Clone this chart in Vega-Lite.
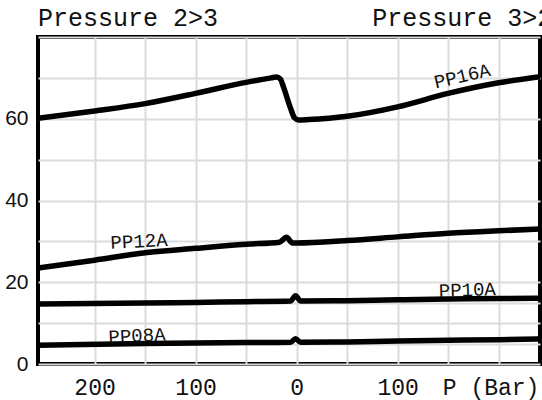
{
  "$schema": "https://vega.github.io/schema/vega-lite/v6.json",
  "width": 502,
  "height": 327,
  "autosize": {"type": "none"},
  "padding": {"left": 38, "top": 37, "right": 2, "bottom": 36},
  "background": "white",
  "config": {"view": {"stroke": "black", "strokeWidth": 4}},
  "datasets": {
    "curves": [
      {"curve": "PP16A", "p": -256, "v": 60.1},
      {"curve": "PP16A", "p": -200, "v": 61.9},
      {"curve": "PP16A", "p": -150, "v": 63.7},
      {"curve": "PP16A", "p": -100, "v": 66.2},
      {"curve": "PP16A", "p": -50, "v": 68.9},
      {"curve": "PP16A", "p": -25, "v": 70.0},
      {"curve": "PP16A", "p": -20, "v": 70.2},
      {"curve": "PP16A", "p": -16, "v": 69.7},
      {"curve": "PP16A", "p": -13, "v": 67.8},
      {"curve": "PP16A", "p": -6, "v": 62.6},
      {"curve": "PP16A", "p": -2, "v": 60.2},
      {"curve": "PP16A", "p": 2, "v": 59.7},
      {"curve": "PP16A", "p": 12, "v": 59.8},
      {"curve": "PP16A", "p": 50, "v": 60.6},
      {"curve": "PP16A", "p": 100, "v": 62.9},
      {"curve": "PP16A", "p": 150, "v": 66.2},
      {"curve": "PP16A", "p": 200, "v": 68.8},
      {"curve": "PP16A", "p": 241, "v": 70.3},
      {"curve": "PP12A", "p": -256, "v": 23.5},
      {"curve": "PP12A", "p": -200, "v": 25.4},
      {"curve": "PP12A", "p": -150, "v": 27.2},
      {"curve": "PP12A", "p": -100, "v": 28.3},
      {"curve": "PP12A", "p": -50, "v": 29.3},
      {"curve": "PP12A", "p": -17, "v": 29.8},
      {"curve": "PP12A", "p": -10, "v": 31.0},
      {"curve": "PP12A", "p": -4, "v": 29.6},
      {"curve": "PP12A", "p": 0, "v": 29.6},
      {"curve": "PP12A", "p": 50, "v": 30.2},
      {"curve": "PP12A", "p": 100, "v": 31.1},
      {"curve": "PP12A", "p": 150, "v": 32.0},
      {"curve": "PP12A", "p": 200, "v": 32.6},
      {"curve": "PP12A", "p": 241, "v": 33.0},
      {"curve": "PP10A", "p": -256, "v": 14.7},
      {"curve": "PP10A", "p": -150, "v": 14.95},
      {"curve": "PP10A", "p": -100, "v": 15.05},
      {"curve": "PP10A", "p": -50, "v": 15.25},
      {"curve": "PP10A", "p": -6, "v": 15.4},
      {"curve": "PP10A", "p": -1, "v": 16.7},
      {"curve": "PP10A", "p": 4, "v": 15.4},
      {"curve": "PP10A", "p": 50, "v": 15.5},
      {"curve": "PP10A", "p": 100, "v": 15.7},
      {"curve": "PP10A", "p": 150, "v": 15.9},
      {"curve": "PP10A", "p": 200, "v": 16.0},
      {"curve": "PP10A", "p": 241, "v": 16.1},
      {"curve": "PP08A", "p": -256, "v": 4.6},
      {"curve": "PP08A", "p": -150, "v": 5.0},
      {"curve": "PP08A", "p": -100, "v": 5.15},
      {"curve": "PP08A", "p": -50, "v": 5.25},
      {"curve": "PP08A", "p": -6, "v": 5.3},
      {"curve": "PP08A", "p": -1, "v": 6.2},
      {"curve": "PP08A", "p": 4, "v": 5.3},
      {"curve": "PP08A", "p": 50, "v": 5.4},
      {"curve": "PP08A", "p": 100, "v": 5.6},
      {"curve": "PP08A", "p": 150, "v": 5.8},
      {"curve": "PP08A", "p": 200, "v": 5.95},
      {"curve": "PP08A", "p": 241, "v": 6.1}
    ],
    "labels": [
      {"label": "PP16A", "p": 164, "v": 70.4},
      {"label": "PP12A", "p": -156, "v": 30.0},
      {"label": "PP10A", "p": 169, "v": 18.1},
      {"label": "PP08A", "p": -158, "v": 6.9}
    ],
    "headers": [
      {"text": "Pressure 2>3", "p": -256, "v": 82.7},
      {"text": "Pressure 3>2", "p": 75, "v": 82.7}
    ]
  },
  "encoding": {
    "x": {
      "field": "p",
      "type": "quantitative",
      "scale": {"domain": [-256, 241], "nice": false, "zero": false},
      "axis": {
        "title": null,
        "values": [-200, -150, -100, -50, 0, 50, 100, 150, 200],
        "labelExpr": "datum.value == 200 ? 'P (Bar)' : (datum.value % 100 == 0 ? format(abs(datum.value), 'd') : '')",
        "domain": false,
        "ticks": false,
        "grid": true,
        "gridColor": "#dcdcdc",
        "gridWidth": 2,
        "labelFont": "Liberation Mono",
        "labelFontSize": 23,
        "labelColor": "#111",
        "labelPadding": 12,
        "labelFlush": false,
        "labelOverlap": false,
        "labelOffset": {"condition": {"test": "datum.value == 200", "value": -8}, "value": 0}
      }
    },
    "y": {
      "field": "v",
      "type": "quantitative",
      "scale": {"domain": [0, 80], "nice": false},
      "axis": {
        "title": null,
        "values": [0, 5, 10, 15, 20, 30, 40, 50, 60, 70, 80],
        "labelExpr": "datum.value % 20 == 0 && datum.value < 80 ? datum.label : ''",
        "domain": false,
        "ticks": false,
        "grid": true,
        "gridColor": "#dcdcdc",
        "gridWidth": 2,
        "labelFont": "Liberation Sans",
        "labelFontSize": 21,
        "labelColor": "#111",
        "labelPadding": 10,
        "labelOverlap": false
      }
    }
  },
  "layer": [
    {
      "data": {"name": "curves"},
      "mark": {"type": "line", "interpolate": "monotone", "stroke": "black", "strokeWidth": 5.5, "strokeJoin": "round", "clip": true},
      "encoding": {"detail": {"field": "curve"}}
    },
    {
      "data": {"name": "labels"},
      "transform": [{"filter": "datum.label == 'PP16A'"}],
      "mark": {"type": "text", "font": "Liberation Mono", "fontSize": 19, "angle": -13, "color": "#111"},
      "encoding": {"text": {"field": "label"}}
    },
    {
      "data": {"name": "labels"},
      "transform": [{"filter": "datum.label == 'PP12A'"}],
      "mark": {"type": "text", "font": "Liberation Mono", "fontSize": 19, "angle": -3, "color": "#111"},
      "encoding": {"text": {"field": "label"}}
    },
    {
      "data": {"name": "labels"},
      "transform": [{"filter": "datum.label == 'PP10A'"}],
      "mark": {"type": "text", "font": "Liberation Mono", "fontSize": 19, "angle": -2, "color": "#111"},
      "encoding": {"text": {"field": "label"}}
    },
    {
      "data": {"name": "labels"},
      "transform": [{"filter": "datum.label == 'PP08A'"}],
      "mark": {"type": "text", "font": "Liberation Mono", "fontSize": 19, "angle": -3, "color": "#111"},
      "encoding": {"text": {"field": "label"}}
    },
    {
      "data": {"name": "headers"},
      "mark": {"type": "text", "font": "Liberation Mono", "fontSize": 25, "align": "left", "baseline": "alphabetic", "color": "#111"},
      "encoding": {"text": {"field": "text"}}
    }
  ]
}
